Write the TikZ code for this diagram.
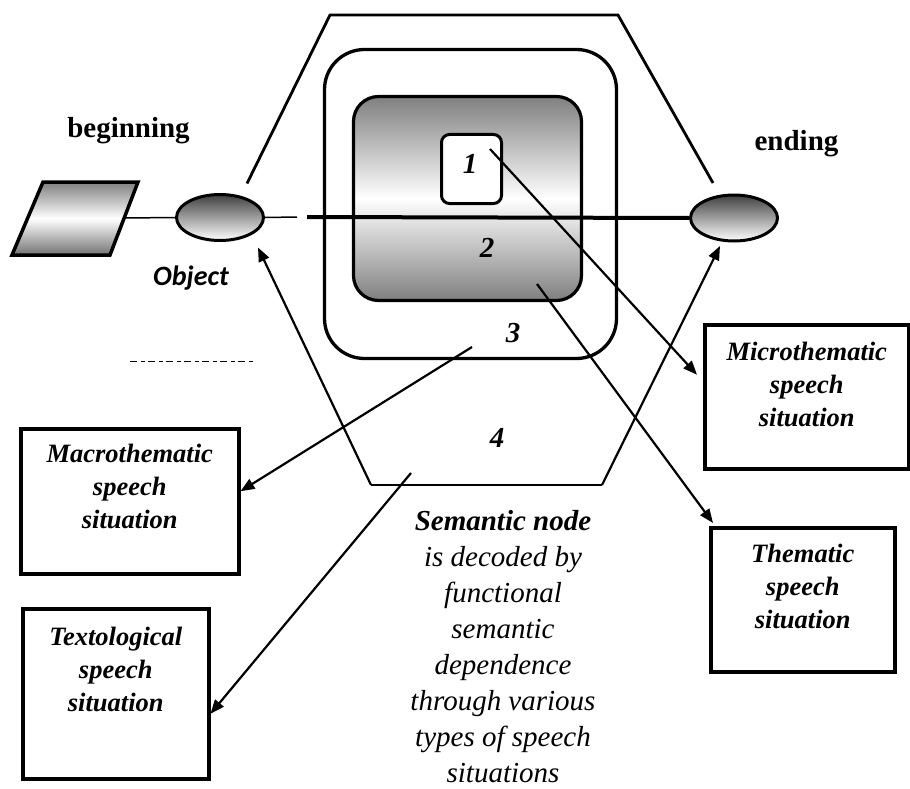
\documentclass[tikz,border=0pt]{standalone}
\usepackage{fontspec}
\setmainfont{Liberation Serif}
\newfontfamily\tnr{Liberation Serif}
\newfontfamily\calib{Carlito}
\usetikzlibrary{shapes.geometric,arrows.meta}
\tikzset{
  conn/.style={line width=2.2pt,-{Triangle[length=14pt,width=11pt]}},
  hexline/.style={line width=2.8pt},
  sitbox/.style={draw,line width=3.5pt,rectangle,inner sep=0pt,anchor=north west},
  sittext/.style={font=\tnr\fontsize{26.5}{33}\selectfont\bfseries\itshape,align=center,inner sep=0pt,anchor=north},
  numlbl/.style={font=\tnr\fontsize{29}{29}\selectfont\bfseries\itshape,inner sep=0pt,anchor=base},
  endlbl/.style={font=\tnr\fontsize{29}{29}\selectfont\bfseries,inner sep=0pt,anchor=base},
  endpt/.style={ellipse,draw,line width=3pt,minimum width=87pt,minimum height=46pt,top color=black!75,bottom color=white,inner sep=0pt},
}
\begin{document}
\begin{tikzpicture}[x=1pt,y=-1pt]
\useasboundingbox (0,0) rectangle (910,789);

% parallelogram
\path[draw,line width=3.5pt,top color=black!50,bottom color=black!55,middle color=white,line join=miter]
  (43,182) -- (138,182) -- (110,255) -- (12,255) -- cycle;
\coordinate (paraE) at (125,218);

% end points
\node[endpt] (objL) at (220,217.5) {};
\node[endpt] (objR) at (734,218) {};

% hexagon
\coordinate (hTL) at (330,15);
\coordinate (hTR) at (618,15);
\coordinate (hBL) at (371,485);
\coordinate (hBR) at (602,485);
\draw[hexline] ([shift={(27,-34)}]objL.center) -- (hTL) -- (hTR) -- ([shift={(-21,-35)}]objR.center);
\draw[line width=2.4pt] (hBL) -- (hBR);

% nested squares
\node[draw,line width=3.3pt,rounded corners=40pt,minimum width=292pt,minimum height=309pt,inner sep=0pt] (outer) at (470.5,204) {};
\node[draw,line width=3.2pt,rounded corners=25pt,minimum width=228pt,minimum height=204pt,inner sep=0pt,
      top color=black!50,bottom color=black!50,middle color=white] (inner) at (467.5,198.5) {};
\node[draw,line width=3pt,rounded corners=8pt,fill=white,minimum width=60pt,minimum height=69pt,inner sep=0pt] (b1) at (471.5,169) {};

% axis line
\coordinate (gapA) at (297,217);
\coordinate (gapB) at (307,217);
\draw[line width=1.5pt] (paraE) -- (objL.west);
\draw[line width=1.5pt] (objL.east) -- (gapA);
\draw[line width=4pt] (gapB) -- (objR.west);

% numbers
\node[numlbl] (n1) at (470,173) {1};
\node[numlbl] (n2) at (487,257) {2};
\node[numlbl] (n3) at (513,342) {3};
\node[numlbl] (n4) at (497,447) {4};

% labels
\node[endlbl] (lbeg) at (128.5,138) {beginning};
\node[endlbl] (lend) at (796.5,150) {ending};
\node[font=\calib\fontsize{28}{28}\selectfont\bfseries\itshape,inner sep=0pt,anchor=base] (lobj) at (191,285) {Object};

% garbled dashes
\draw[line width=1pt,dash pattern=on 7pt off 4pt on 4pt off 3pt] (130,361) -- (255,361);

% situation boxes
\node[sitbox,minimum width=218pt,minimum height=145pt] (macro) at (19,427) {};
\node[sitbox,minimum width=204pt,minimum height=144pt] (micro) at (703,323) {};
\node[sitbox,minimum width=184pt,minimum height=144pt] (them) at (709,526) {};
\node[sitbox,minimum width=186pt,minimum height=170pt] (textl) at (21,607) {};

\node[sittext] (macroT) at ([yshift=-17pt]macro.north) {Macrothematic\\speech\\situation};
\node[sittext] (microT) at ([yshift=-19pt]micro.north) {Microthematic\\speech\\situation};
\node[sittext] (themT) at ([yshift=-18pt]them.north) {Thematic\\speech\\situation};
\node[sittext] (textT) at ([yshift=-20pt]textl.north) {Textological\\speech\\situation};

\node[font=\tnr\fontsize{29}{36}\selectfont\itshape,align=center,inner sep=0pt,anchor=north] (sem) at (503,510)
  {\textbf{Semantic node}\\is decoded by\\functional\\semantic\\dependence\\through various\\types of speech\\situations};

% connectors
\coordinate (c1) at (490,149);
\coordinate (c2) at (537,284);
\coordinate (c3) at (472,347);
\coordinate (c4) at (411,473);
\draw[conn] (c1) -- ([xshift=-6pt,yshift=22pt]micro.west);
\draw[conn] (c2) -- ([xshift=4pt,yshift=3pt]them.north west);
\draw[conn] (c3) -- ([yshift=10pt]macro.east);
\draw[conn] (c4) -- ([yshift=-20pt]textl.east);
\draw[conn] (hBL) -- ([shift={(38,30)}]objL.center);
\draw[conn] (hBR) -- ([shift={(-14,28)}]objR.center);
\end{tikzpicture}
\end{document}
